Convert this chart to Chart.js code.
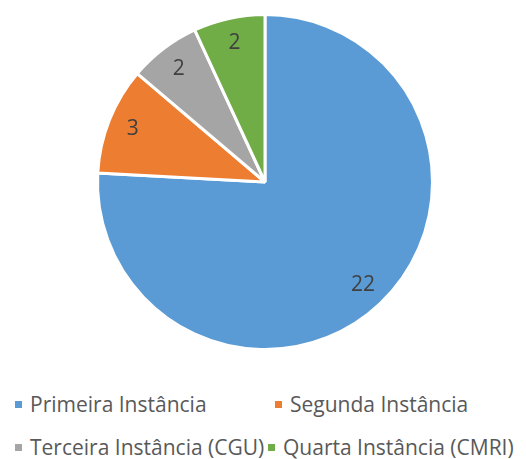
<!DOCTYPE html>
<html>
<head>
<meta charset="utf-8">
<script src="https://cdn.jsdelivr.net/npm/chart.js@4"></script>
<style>
  html, body { margin: 0; padding: 0; background: #fff; }
  #wrap { position: relative; width: 526px; height: 459px; }
  #chartBox { position: absolute; left: 0; top: 0; width: 526px; height: 380px; }
  .lg { position: absolute; font-family: "Open Sans", sans-serif; font-size: 21px; color: #595959; white-space: nowrap; line-height: 22px; }
  .lg span.sq { display: inline-block; width: 7px; height: 7px; margin-right: 8px; vertical-align: 4px; }
</style>
</head>
<body>
<div id="wrap">
  <div id="chartBox"><canvas id="pieChart"></canvas></div>
  <div id="legend"></div>
</div>
<script>
const labels = ["Primeira Instância", "Segunda Instância", "Terceira Instância (CGU)", "Quarta Instância (CMRI)"]
const values = [22, 3, 2, 2]
const colors = ["#5B9BD5", "#ED7D31", "#A5A5A5", "#70AD47"]

// Value labels inside the slices
const sliceLabels = {
  id: "sliceLabels",
  afterDatasetsDraw(chart) {
    const ctx = chart.ctx
    const meta = chart.getDatasetMeta(0)
    ctx.save()
    ctx.font = "21px 'Open Sans', sans-serif"
    ctx.fillStyle = "#404040"
    ctx.textAlign = "center"
    ctx.textBaseline = "middle"
    meta.data.forEach((arc, i) => {
      const p = arc.getProps(["x", "y", "startAngle", "endAngle", "outerRadius"], true)
      const mid = (p.startAngle + p.endAngle) / 2
      const r = p.outerRadius * 0.85
      ctx.fillText(String(values[i]), p.x + Math.cos(mid) * r, p.y + Math.sin(mid) * r)
    })
    ctx.restore()
  },
}

const chart = new Chart(document.getElementById("pieChart"), {
  type: "pie",
  data: {
    labels: labels,
    datasets: [
      {
        data: values,
        backgroundColor: colors,
        borderColor: "#ffffff",
        borderWidth: 3,
      },
    ],
  },
  options: {
    responsive: true,
    maintainAspectRatio: false,
    animation: false,
    layout: { padding: { top: 13, left: 96, right: 92, bottom: 29 } },
    plugins: {
      legend: { display: false },
      tooltip: { enabled: false },
    },
  },
  plugins: [sliceLabels],
})

// HTML legend built from the same arrays
const legendPos = [
  { left: 15, top: 393 },
  { left: 275, top: 393 },
  { left: 15, top: 436 },
  { left: 268, top: 436 },
]
const legend = document.getElementById("legend")
labels.forEach((name, i) => {
  const item = document.createElement("div")
  item.className = "lg"
  item.style.left = legendPos[i].left + "px"
  item.style.top = legendPos[i].top + "px"
  item.innerHTML = `<span class="sq" style="background:${colors[i]}"></span>${name}`
  legend.appendChild(item)
})
</script>
</body>
</html>
